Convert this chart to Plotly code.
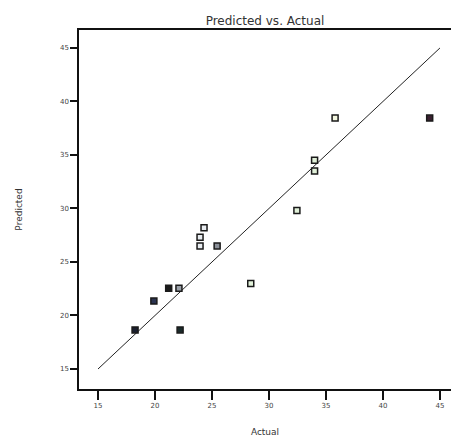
import plotly.graph_objects as go

actual = [18.25, 19.9, 21.2, 22.1, 22.2, 23.95, 23.95, 24.3, 25.45, 28.4, 32.45, 34.0, 34.0, 35.8, 44.1]
predicted = [18.65, 21.35, 22.55, 22.55, 18.65, 27.3, 26.5, 28.2, 26.5, 23.0, 29.8, 34.5, 33.5, 38.45, 38.45]
fills = ["#1a1f2e", "#2a3350", "#1a1a1a", "#9aa0a8", "#1a2a2a", "#e8ecf0", "#e8ecf0", "#e8ecf0",
         "#8a8f98", "#e0f0d8", "#e0f0d8", "#e0f0d8", "#e0f0d8", "#f4f8e0", "#3a2030"]
line_x = [15, 45]
line_y = [15, 45]
ticks = [15, 20, 25, 30, 35, 40, 45]

fig = go.Figure()
fig.add_trace(go.Scatter(x=line_x, y=line_y, mode="lines",
                         line=dict(color="#222222", width=1), showlegend=False))
fig.add_trace(go.Scatter(x=actual, y=predicted, mode="markers",
                         marker=dict(symbol="square", size=6, color=fills,
                                     line=dict(color="#1a1a1a", width=1.5)),
                         showlegend=False))

fig.update_layout(
    width=451, height=438,
    margin=dict(l=79, r=0, t=30, b=49),
    paper_bgcolor="white", plot_bgcolor="white",
    font=dict(family="DejaVu Sans", color="#222222"),
    title=dict(text="Predicted vs. Actual", x=0.5, xref="paper", xanchor="center",
               y=1, yref="paper", yanchor="bottom", pad=dict(b=5),
               font=dict(size=12, color="#333333")),
    xaxis=dict(range=[13.33, 45.97], tickvals=ticks, showgrid=False, zeroline=False,
               showline=True, linecolor="#111111", linewidth=1.5, mirror=True,
               ticks="outside", ticklen=9, tickwidth=1.5, tickcolor="#111111",
               tickfont=dict(size=7, color="#444444"),
               title=dict(text="Actual", font=dict(size=9, color="#333333"), standoff=20)),
    yaxis=dict(range=[13.13, 46.68], tickvals=ticks, showgrid=False, zeroline=False,
               showline=True, linecolor="#111111", linewidth=1.5, mirror=False,
               ticks="outside", ticklen=7, tickwidth=1.5, tickcolor="#111111",
               tickfont=dict(size=7, color="#444444"),
               title=dict(text="Predicted", font=dict(size=9, color="#333333"), standoff=36)),
)

fig.write_html("out.html")
